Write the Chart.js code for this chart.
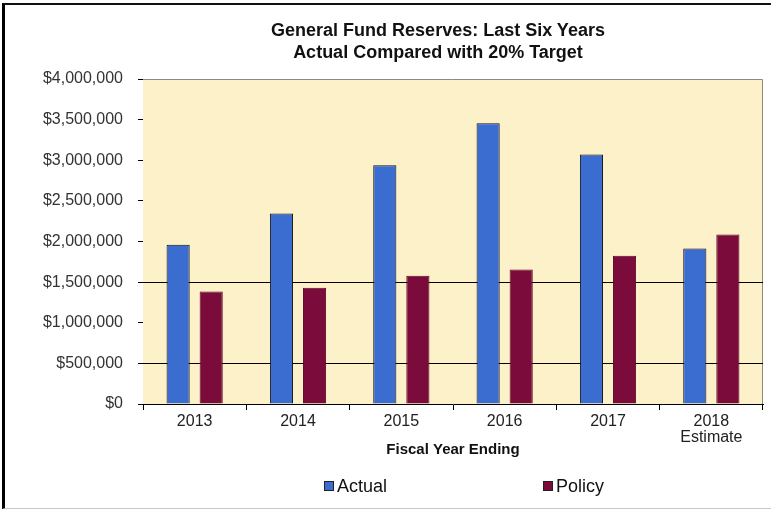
<!DOCTYPE html>
<html>
<head>
<meta charset="utf-8">
<script src="https://cdn.jsdelivr.net/npm/chart.js@4/dist/chart.umd.min.js"></script>
<style>
    html, body { margin: 0; padding: 0; background: #fff; }
    body { width: 771px; height: 510px; position: relative; overflow: hidden; }
    #frame {
        position: absolute; left: 2px; top: 3px;
        width: 769px; height: 503px;
        border-left: 3px solid #000;
        border-top: 2px solid #111;
        border-bottom: 1px solid #c8c8c8;
    }
    #reserves-chart { display: block; }
    #reserves-title {
        position: absolute; left: 238px; top: 19px; width: 400px;
        text-align: center;
        font-family: 'Liberation Sans', Arial, sans-serif;
        font-size: 18px; font-weight: bold; line-height: 22px; color: #111;
    }
    #reserves-legend {
        position: absolute; left: 324px; top: 476px;
        font-family: 'Liberation Sans', Arial, sans-serif;
        font-size: 18px; color: #111; white-space: nowrap;
    }
    #reserves-legend .item { display: inline-block; width: 219px; }
    #reserves-legend .swatch {
        display: inline-block; width: 8px; height: 8px;
        margin-right: 3px; vertical-align: 1px;
        border: 1px solid #222;
    }
</style>
</head>
<body>
<div id="frame">
    <canvas id="reserves-chart" width="766" height="502"></canvas>
</div>
<div id="reserves-title">General Fund Reserves: Last Six Years<br>Actual Compared with 20% Target</div>
<div id="reserves-legend"></div>
<script>
/**
 * General Fund reserves vs. the 20% policy target
 */

const FISCAL_YEARS = ['2013', '2014', '2015', '2016', '2017', ['2018', 'Estimate']];
const ACTUAL_RESERVES = [1960000, 2345000, 2940000, 3455000, 3070000, 1915000];
const POLICY_TARGET = [1385000, 1430000, 1580000, 1655000, 1825000, 2085000];
const Y_GRID_VALUES = [500000, 1500000];

const FONT = "'Liberation Sans', Arial, sans-serif";

// pale yellow plot background with a thin grey frame
const plotBackground = {
    id: 'plotBackground',
    beforeDatasetsDraw(chart) {
        const { ctx, chartArea: a } = chart;
        ctx.save();
        ctx.fillStyle = '#fdf1c9';
        ctx.fillRect(a.left, a.top, a.right - a.left, a.bottom - a.top);
        ctx.strokeStyle = '#8a8a80';
        ctx.lineWidth = 1;
        ctx.beginPath();
        ctx.moveTo(a.left, a.top + 0.5);
        ctx.lineTo(a.right - 0.5, a.top + 0.5);
        ctx.lineTo(a.right - 0.5, a.bottom);
        ctx.stroke();
        ctx.restore();
    }
};

// only a couple of horizontal grid lines are shown, drawn over the fill
const gridOverFill = {
    id: 'gridOverFill',
    beforeDatasetsDraw(chart) {
        const { ctx, chartArea: a, scales: { y } } = chart;
        ctx.save();
        ctx.strokeStyle = '#000';
        ctx.lineWidth = 1;
        Y_GRID_VALUES.forEach(v => {
            const py = Math.round(y.getPixelForValue(v)) + 0.5;
            ctx.beginPath();
            ctx.moveTo(a.left, py);
            ctx.lineTo(a.right, py);
            ctx.stroke();
        });
        ctx.restore();
    }
};

// simple html legend built from the datasets
const htmlLegend = {
    id: 'htmlLegend',
    afterUpdate(chart) {
        const box = document.getElementById('reserves-legend');
        box.innerHTML = '';
        chart.data.datasets.forEach(ds => {
            const item = document.createElement('span');
            item.className = 'item';
            const sw = document.createElement('span');
            sw.className = 'swatch';
            sw.style.background = ds.backgroundColor;
            item.appendChild(sw);
            item.appendChild(document.createTextNode(ds.label));
            box.appendChild(item);
        });
    }
};

const fmtDollars = v => '$' + Number(v).toLocaleString('en-US');

new Chart(document.getElementById('reserves-chart'), {
    type: 'bar',
    data: {
        labels: FISCAL_YEARS,
        datasets: [
            {
                label: 'Actual',
                data: ACTUAL_RESERVES,
                backgroundColor: '#3b6dd0',
                borderColor: '#101010',
                borderWidth: 1,
                categoryPercentage: 0.64,
                barPercentage: 0.7
            },
            {
                label: 'Policy',
                data: POLICY_TARGET,
                backgroundColor: '#7a0b3b',
                borderColor: '#5c0729',
                borderWidth: 1,
                categoryPercentage: 0.64,
                barPercentage: 0.7
            }
        ]
    },
    options: {
        responsive: false,
        animation: false,
        layout: {
            padding: { left: 33, right: 8, top: 74, bottom: 48 }
        },
        plugins: {
            legend: { display: false },
            tooltip: { enabled: false }
        },
        scales: {
            x: {
                grid: {
                    offset: true,
                    drawOnChartArea: false,
                    drawTicks: true,
                    tickLength: 6,
                    tickColor: '#000'
                },
                border: { color: '#000', width: 1 },
                ticks: {
                    color: '#222',
                    padding: 4,
                    maxRotation: 0,
                    font: { family: FONT, size: 16, lineHeight: 1.0 }
                },
                title: {
                    display: true,
                    text: 'Fiscal Year Ending',
                    color: '#111',
                    font: { family: FONT, size: 15, weight: 'bold' },
                    padding: { top: -9, bottom: 0 }
                }
            },
            y: {
                min: 0,
                max: 4000000,
                afterFit(scale) { scale.width = 105; },
                grid: {
                    drawOnChartArea: false,
                    drawTicks: true,
                    tickLength: 5,
                    tickColor: '#000'
                },
                border: { color: '#000', width: 1 },
                ticks: {
                    stepSize: 500000,
                    padding: 15,
                    color: '#333',
                    font: { family: FONT, size: 16 },
                    callback: v => fmtDollars(v)
                }
            }
        }
    },
    plugins: [plotBackground, gridOverFill, htmlLegend]
});
</script>
</body>
</html>
